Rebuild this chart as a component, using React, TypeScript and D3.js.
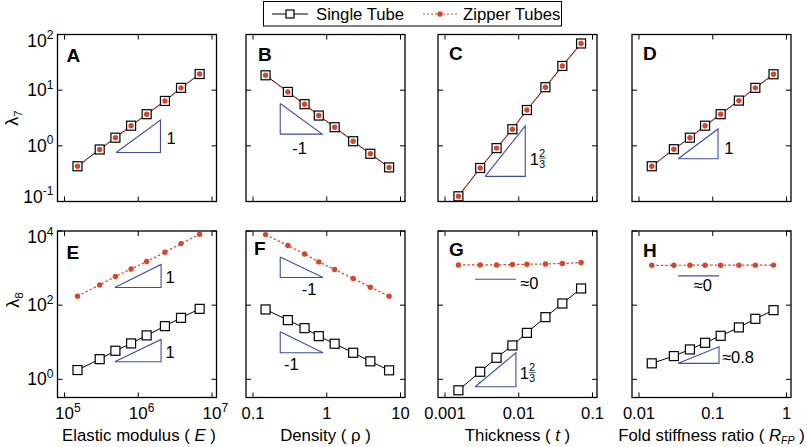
import * as d3 from "d3";

const FONT = "Arial, 'Liberation Sans', Helvetica, sans-serif";
const RED = "#d4472a";
const BLUE = "#3f4d9c";

// x variables (one per column)
const modulusE = [1.5e5, 3.0e5, 4.9e5, 8.0e5, 1.3e6, 2.3e6, 3.8e6, 6.8e6];
const densityRho = [0.148, 0.297, 0.5, 0.78, 1.28, 2.28, 3.9, 7.0];
const thicknessT = [0.00152, 0.003, 0.005, 0.0082, 0.0129, 0.023, 0.039, 0.07];
const foldRatio = [0.0149, 0.0297, 0.049, 0.0787, 0.128, 0.226, 0.378, 0.667];

// lambda_7 (top row)
const lam7SingleE = [0.43, 0.86, 1.4, 2.3, 3.7, 6.4, 11, 19.5];
const lam7ZipperE = [0.43, 0.86, 1.4, 2.3, 3.7, 6.4, 11, 19.5];
const lam7SingleRho = [18.5, 9.3, 5.6, 3.5, 2.16, 1.21, 0.72, 0.41];
const lam7ZipperRho = [18.5, 9.3, 5.6, 3.5, 2.16, 1.21, 0.72, 0.41];
const lam7SingleT = [0.124, 0.4, 0.91, 1.99, 4.4, 11.3, 27.2, 69];
const lam7ZipperT = [0.124, 0.4, 0.91, 1.99, 4.4, 11.3, 27.2, 69];
const lam7SingleR = [0.43, 0.87, 1.4, 2.3, 3.7, 6.5, 11, 19.3];
const lam7ZipperR = [0.43, 0.87, 1.4, 2.3, 3.7, 6.5, 11, 19.3];

// lambda_8 (bottom row)
const lam8SingleE = [1.78, 3.5, 5.9, 9.3, 15.3, 27.2, 45.5, 79.5];
const lam8ZipperE = [175, 352, 592, 948, 1500, 2670, 4580, 8150];
const lam8SingleRho = [76.6, 39.5, 24, 14.6, 9.1, 5.2, 3.06, 1.75];
const lam8ZipperRho = [8000, 4050, 2400, 1466, 915, 524, 305, 175];
const lam8SingleT = [0.506, 1.6, 3.81, 8.2, 17.9, 47.5, 111, 282];
const lam8ZipperT = [1216, 1216, 1216, 1247, 1270, 1294, 1327, 1410];
const lam8SingleR = [2.7, 4.24, 6.4, 9.66, 14.9, 25.1, 42.8, 73.3];
const lam8ZipperR = [1190, 1190, 1195, 1195, 1195, 1200, 1200, 1205];

const panelLetters = ["A", "B", "C", "D", "E", "F", "G", "H"];
const xDecades = [[5, 7], [-1, 1], [-3, -1], [-2, 0]];
const xTickLabels = [
  [["10", "5"], ["10", "6"], ["10", "7"]],
  [["0.1"], ["1"], ["10"]],
  [["0.001"], ["0.01"], ["0.1"]],
  [["0.01"], ["0.1"], ["1"]],
];
const yTopDecades = [-1, 0, 1, 2];
const yBottomDecades = [0, 2, 4];

// slope guides, data units: [x0, x1], [yStart, yEnd]
const slopeGuides = [
  { panel: 0, x: [5.0e5, 2.0e6], y: [0.76, 2.9], label: "1" },
  { panel: 1, x: [0.234, 0.87], y: [5.75, 1.62], label: "-1" },
  { panel: 2, x: [0.0035, 0.01225], y: [0.283, 2.28], label: "frac" },
  { panel: 3, x: [0.034, 0.118], y: [0.586, 2.01], label: "1" },
  { panel: 4, x: [4.8e5, 2.04e6], y: [299, 1250], label: "1" },
  { panel: 4, x: [4.8e5, 2.04e6], y: [2.98, 11.9], label: "1" },
  { panel: 5, x: [0.234, 0.89], y: [2000, 557], label: "-1" },
  { panel: 5, x: [0.234, 0.89], y: [19.1, 5.2], label: "-1" },
  { panel: 6, x: [0.00256, 0.00916], y: [500, 500], label: "≈0" },
  { panel: 6, x: [0.00256, 0.00916], y: [0.632, 5.2], label: "frac" },
  { panel: 7, x: [0.034, 0.1216], y: [615, 615], label: "≈0" },
  { panel: 7, x: [0.034, 0.1216], y: [2.7, 7.53], label: "≈0.8" },
];
// label centre offsets from (right edge, vertical middle) of each guide
const guideLabelOffsets = [
  [10.7, 1.6], [-22.7, 29], [14.5, 7.6], [10.7, 4],
  [9, 1], [9, 1.2], [-14, 22.3], [-31.6, 21.8],
  [13.3, 4], [13.8, 3.3], [-16.3, 9.3], [19, 1.7],
];

const xVars = [modulusE, densityRho, thicknessT, foldRatio];
const singleSeries = [
  [lam7SingleE, lam7SingleRho, lam7SingleT, lam7SingleR],
  [lam8SingleE, lam8SingleRho, lam8SingleT, lam8SingleR],
];
const zipperSeries = [
  [lam7ZipperE, lam7ZipperRho, lam7ZipperT, lam7ZipperR],
  [lam8ZipperE, lam8ZipperRho, lam8ZipperT, lam8ZipperR],
];

const PANEL_LEFT = [57.5, 246, 438, 632];
const PANEL_W = 159;
const ROW_TOP = [34.5, 231];
const ROW_BOTTOM = [201.5, 397.5];
const LETTER_POS = [
  [66.5, 61.5], [258, 60.5], [449, 60], [643, 60],
  [66.5, 259], [254, 255], [449, 256], [643, 257],
];
const FS = 16.5;
const TICK = 5;

function Frac({ cx, cy }: { cx: number; cy: number }) {
  return (
    <g>
      <text x={cx - 5.5} y={cy + 6} fontSize={FS} textAnchor="middle">1</text>
      <text x={cx + 2.5} y={cy - 2} fontSize={10.5} textAnchor="middle">2</text>
      <line x1={cx - 1} x2={cx + 6} y1={cy - 0.5} y2={cy - 0.5} stroke="#333" strokeWidth={0.8} />
      <text x={cx + 2.5} y={cy + 9} fontSize={10.5} textAnchor="middle">3</text>
    </g>
  );
}

function Panel({ idx }: { idx: number }) {
  const row = idx < 4 ? 0 : 1;
  const col = idx % 4;
  const left = PANEL_LEFT[col];
  const right = left + PANEL_W;
  const top = ROW_TOP[row];
  const bottom = ROW_BOTTOM[row];
  const [d0, d1] = xDecades[col];
  const x = d3.scaleLog().domain([10 ** d0, 10 ** d1]).range([left + 7, right - 4.5]);
  const y = d3
    .scaleLog()
    .domain(row === 0 ? [0.1, 100] : [10 ** -0.49, 1e4])
    .range([bottom, top]);
  const xs = xVars[col];
  const single = singleSeries[row][col];
  const zipper = zipperSeries[row][col];
  const xTicks = d3.range(d0, d1 + 1).map((d) => 10 ** d);
  const yTicks = (row === 0 ? yTopDecades : yBottomDecades).map((d) => 10 ** d);
  const line = d3
    .line<number>()
    .x((_, i) => x(xs[i]))
    .y((v) => y(v));

  const guides = slopeGuides
    .map((g, i) => ({ ...g, off: guideLabelOffsets[i] }))
    .filter((g) => g.panel === idx);

  return (
    <g>
      {/* ticks */}
      {xTicks.map((t, i) => (
        <g key={"xt" + i}>
          <line x1={x(t)} x2={x(t)} y1={bottom} y2={bottom - TICK} stroke="#000" />
          <line x1={x(t)} x2={x(t)} y1={top} y2={top + TICK} stroke="#000" />
        </g>
      ))}
      {yTicks.map((t, i) => (
        <g key={"yt" + i}>
          <line x1={left} x2={left + TICK} y1={y(t)} y2={y(t)} stroke="#000" />
          <line x1={right} x2={right - TICK} y1={y(t)} y2={y(t)} stroke="#000" />
        </g>
      ))}
      <rect x={left} y={top} width={PANEL_W} height={bottom - top} fill="none" stroke="#000" strokeWidth={1.3} />

      {/* y tick labels */}
      {col === 0 &&
        yTicks.map((t, i) => {
          const c = Math.min(Math.max(y(t), top + 6), bottom - 5);
          const e = Math.round(Math.log10(t));
          return (
            <text key={"yl" + i} x={53.5} y={c + 6} fontSize={17.5} textAnchor="end">
              10<tspan dy={-7.5} fontSize={12}>{e}</tspan>
            </text>
          );
        })}

      {/* x tick labels */}
      {row === 1 &&
        xTicks.map((t, i) => {
          const lab = xTickLabels[col][i];
          if (lab.length === 2) {
            return (
              <text key={"xl" + i} x={x(t) - 9.5} y={419} fontSize={17}>
                {lab[0]}
                <tspan dy={-7.5} fontSize={12}>{lab[1]}</tspan>
              </text>
            );
          }
          return (
            <text key={"xl" + i} x={x(t)} y={419} fontSize={16.5} textAnchor="middle">
              {lab[0]}
            </text>
          );
        })}

      {/* slope guides */}
      {guides.map((g, i) => {
        const xa = x(g.x[0]);
        const xb = x(g.x[1]);
        const ya = y(g.y[0]);
        const yb = y(g.y[1]);
        const flat = g.y[0] === g.y[1];
        let pts: [number, number][];
        if (flat) pts = [[xa, ya], [xb, ya]];
        else if (yb < ya) pts = [[xa, ya], [xb, ya], [xb, yb], [xa, ya]];
        else pts = [[xa, ya], [xa, yb], [xb, yb], [xa, ya]];
        const mid = (ya + yb) / 2;
        const cx = xb + g.off[0];
        const cy = mid + g.off[1];
        return (
          <g key={"g" + i}>
            <path d={d3.line()(pts) || ""} fill="none" stroke={BLUE} strokeWidth={1.1} />
            {g.label === "frac" ? (
              <Frac cx={cx} cy={cy} />
            ) : (
              <text x={cx} y={cy + 5.9} fontSize={FS} textAnchor="middle">
                {g.label}
              </text>
            )}
          </g>
        );
      })}

      {/* series */}
      <path d={line(single) || ""} fill="none" stroke="#000" strokeWidth={1} />
      <path d={line(zipper) || ""} fill="none" stroke={RED} strokeWidth={1.2} strokeDasharray="2.5 2" />
      {single.map((v, i) => (
        <rect
          key={"s" + i}
          x={x(xs[i]) - 4.5}
          y={y(v) - 4.5}
          width={9}
          height={9}
          fill="#fff"
          stroke="#000"
          strokeWidth={1.2}
        />
      ))}
      {zipper.map((v, i) => (
        <circle key={"z" + i} cx={x(xs[i])} cy={y(v)} r={2.7} fill={RED} />
      ))}

      <text x={LETTER_POS[idx][0]} y={LETTER_POS[idx][1]} fontSize={19} fontWeight="bold">
        {panelLetters[idx]}
      </text>
    </g>
  );
}

export default function App() {
  const centers = PANEL_LEFT.map((l) => l + PANEL_W / 2);
  return (
    <svg
      width={807}
      height={447}
      style={{ position: "absolute", left: 0, top: 0, background: "#fff" }}
      fontFamily={FONT}
    >
      <rect width={807} height={447} fill="#fff" />
      {/* legend */}
      <rect x={263.5} y={1.5} width={298} height={24.5} fill="#fff" stroke="#000" strokeWidth={1} />
      <line x1={272} x2={308} y1={14} y2={14} stroke="#000" strokeWidth={1} />
      <rect x={286} y={10} width={8} height={8} fill="#fff" stroke="#000" strokeWidth={1.2} />
      <text x={316} y={19.5} fontSize={16.7}>Single Tube</text>
      <line x1={423} x2={458} y1={14} y2={14} stroke={RED} strokeWidth={1.2} strokeDasharray="2 2" />
      <circle cx={440} cy={14} r={2.7} fill={RED} />
      <text x={463} y={19.5} fontSize={16.7}>Zipper Tubes</text>

      {d3.range(8).map((i) => (
        <Panel key={i} idx={i} />
      ))}

      {/* y titles */}
      <text transform="translate(18,118) rotate(-90)" fontSize={18} textAnchor="middle">
        λ<tspan dy={4} fontSize={11.5}>7</tspan>
      </text>
      <text transform="translate(19,300) rotate(-90)" fontSize={18} textAnchor="middle">
        λ<tspan dy={4} fontSize={11.5}>8</tspan>
      </text>

      {/* x titles */}
      <text x={centers[0] + 2} y={441} fontSize={16.8} textAnchor="middle">
        Elastic modulus ( <tspan fontStyle="italic">E</tspan> )
      </text>
      <text x={centers[1]} y={441} fontSize={16.8} textAnchor="middle">
        Density ( ρ )
      </text>
      <text x={centers[2]} y={441} fontSize={16.8} textAnchor="middle">
        Thickness ( <tspan fontStyle="italic">t</tspan> )
      </text>
      <text x={centers[3]} y={441} fontSize={16.8} textAnchor="middle">
        Fold stiffness ratio ( <tspan fontStyle="italic">R</tspan>
        <tspan fontStyle="italic" fontSize={10.5} dy={3}>FP</tspan>
        <tspan dy={-3}> )</tspan>
      </text>
    </svg>
  );
}
